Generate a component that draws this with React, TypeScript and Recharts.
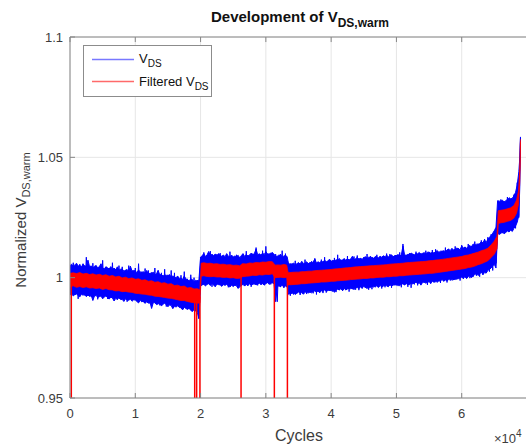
import { Area, CartesianGrid, ComposedChart, Label, Line, ReferenceLine, XAxis, YAxis } from "recharts";

const FONT = "'Liberation Sans', Arial, Helvetica, sans-serif";
const AXIS = "#868686";
const TEXT = "#3c3c3c";
const BLUE = "#0000ff";
const RED = "#ff0000";

// raw V_DS samples: noise envelope (min / max) plus the raw trace itself
const rawCycles = [
  0, 250, 500, 750, 1000, 1250, 1500, 1750, 2000, 2250, 2500, 2750, 3000, 3250, 3500, 3750,
  4000, 4250, 4500, 4750, 5000, 5250, 5500, 5750, 6000, 6250, 6500, 6750, 7000, 7250, 7500, 7750,
  8000, 8250, 8500, 8750, 9000, 9250, 9500, 9750, 10000, 10250, 10500, 10750, 11000, 11250, 11500, 11750,
  12000, 12250, 12500, 12750, 13000, 13250, 13500, 13750, 14000, 14250, 14500, 14750, 15000, 15250, 15500, 15750,
  16000, 16250, 16500, 16750, 17000, 17250, 17500, 17750, 18000, 18250, 18500, 18750, 19000, 19250, 19500, 19750,
  20000, 20250, 20500, 20750, 21000, 21250, 21500, 21750, 22000, 22250, 22500, 22750, 23000, 23250, 23500, 23750,
  24000, 24250, 24500, 24750, 25000, 25250, 25500, 25750, 26000, 26250, 26500, 26750, 27000, 27250, 27500, 27750,
  28000, 28250, 28500, 28750, 29000, 29250, 29500, 29750, 30000, 30250, 30500, 30750, 31000, 31250, 31500, 31750,
  32000, 32250, 32500, 32750, 33000, 33250, 33500, 33750, 34000, 34250, 34500, 34750, 35000, 35250, 35500, 35750,
  36000, 36250, 36500, 36750, 37000, 37250, 37500, 37750, 38000, 38250, 38500, 38750, 39000, 39250, 39500, 39750,
  40000, 40250, 40500, 40750, 41000, 41250, 41500, 41750, 42000, 42250, 42500, 42750, 43000, 43250, 43500, 43750,
  44000, 44250, 44500, 44750, 45000, 45250, 45500, 45750, 46000, 46250, 46500, 46750, 47000, 47250, 47500, 47750,
  48000, 48250, 48500, 48750, 49000, 49250, 49500, 49750, 50000, 50250, 50500, 50750, 51000, 51250, 51500, 51750,
  52000, 52250, 52500, 52750, 53000, 53250, 53500, 53750, 54000, 54250, 54500, 54750, 55000, 55250, 55500, 55750,
  56000, 56250, 56500, 56750, 57000, 57250, 57500, 57750, 58000, 58250, 58500, 58750, 59000, 59250, 59500, 59750,
  60000, 60250, 60500, 60750, 61000, 61250, 61500, 61750, 62000, 62250, 62500, 62750, 63000, 63250, 63500, 63750,
  64000, 64250, 64500, 64750, 65000, 65250, 65500, 65750, 66000, 66250, 66500, 66750, 67000, 67250, 67500, 67750,
  68000, 68250, 68500, 68750, 68900, 69000,
];
const vdsHigh = [
  1.005, 1.0056, 1.0047, 1.0053, 1.006, 1.0048, 1.0052, 1.0045, 1.0056, 1.0049, 1.0047, 1.0073, 1.0045, 1.0049, 1.0041, 1.0047,
  1.005, 1.0041, 1.0046, 1.0058, 1.004, 1.0037, 1.0045, 1.0041, 1.0036, 1.0046, 1.0033, 1.004, 1.0033, 1.0045, 1.0031, 1.0035,
  1.0036, 1.0027, 1.0031, 1.0034, 1.0026, 1.0048, 1.0028, 1.003, 1.0028, 1.0021, 1.0032, 1.0024, 1.0021, 1.0025, 1.0018, 1.003,
  1.0014, 1.0019, 1.0017, 1.0023, 1.0012, 1.0016, 1.0031, 1.0011, 1.0014, 1.0007, 1.0011, 1.001, 1.0007, 1.0013, 1.0001, 1.0008,
  0.9999, 1.0001, 1.0006, 0.9997, 0.9998, 0.9993, 1.0007, 0.9995, 0.9991, 0.9987, 0.9995, 0.9992, 0.9983, 0.9989, 0.9985, 0.9991,
  1.0085, 1.0092, 1.01, 1.0088, 1.0095, 1.0109, 1.0092, 1.0097, 1.0092, 1.0098, 1.0089, 1.01, 1.0092, 1.0089, 1.0094, 1.0087,
  1.01, 1.0089, 1.0087, 1.0094, 1.0086, 1.009, 1.0087, 1.0093, 1.0082, 1.0092, 1.01, 1.0088, 1.0097, 1.009, 1.0094, 1.0102,
  1.0094, 1.0101, 1.0119, 1.0095, 1.0099, 1.0094, 1.0102, 1.0096, 1.0108, 1.0099, 1.0097, 1.0102, 1.0102, 1.0098, 1.0088, 1.009,
  1.0088, 1.0098, 1.0084, 1.009, 1.0092, 1.0088, 1.0055, 1.0058, 1.0056, 1.0061, 1.0054, 1.0058, 1.0062, 1.0057, 1.0068, 1.0059,
  1.006, 1.0066, 1.0058, 1.0063, 1.0062, 1.0065, 1.0078, 1.0061, 1.0066, 1.0062, 1.0069, 1.0065, 1.0073, 1.0066, 1.0069, 1.0077,
  1.0067, 1.0072, 1.0069, 1.0074, 1.0073, 1.008, 1.0069, 1.0074, 1.0077, 1.0073, 1.0078, 1.0074, 1.0077, 1.0089, 1.0075, 1.0079,
  1.0084, 1.0078, 1.008, 1.0077, 1.0083, 1.0087, 1.0081, 1.0085, 1.0082, 1.0085, 1.008, 1.0088, 1.0086, 1.0083, 1.0088, 1.0085,
  1.0091, 1.0087, 1.0094, 1.0086, 1.0091, 1.0095, 1.0087, 1.0092, 1.0092, 1.0096, 1.0091, 1.0094, 1.0132, 1.0095, 1.0092, 1.0097,
  1.0096, 1.0102, 1.0098, 1.0095, 1.0101, 1.0099, 1.0105, 1.0098, 1.0101, 1.0104, 1.0099, 1.0106, 1.0106, 1.0102, 1.0105, 1.0103,
  1.0107, 1.0113, 1.0105, 1.011, 1.011, 1.0112, 1.0108, 1.0116, 1.0117, 1.0113, 1.0122, 1.0115, 1.0118, 1.0123, 1.012, 1.0116,
  1.0132, 1.0123, 1.0126, 1.0122, 1.013, 1.0134, 1.0127, 1.014, 1.0135, 1.0139, 1.0136, 1.0142, 1.0149, 1.0145, 1.0158, 1.0146,
  1.016, 1.0168, 1.0175, 1.0185, 1.0195, 1.021, 1.032, 1.0318, 1.0318, 1.0322, 1.0314, 1.032, 1.0325, 1.0332, 1.0328, 1.033,
  1.034, 1.0355, 1.0385, 1.044, 1.05, 1.0585,
];
const vdsLow = [
  0.9928, 0.9933, 0.9924, 0.993, 0.9932, 0.9926, 0.992, 0.9931, 0.9927, 0.9932, 0.9921, 0.9928, 0.9922, 0.9927, 0.9905, 0.9924,
  0.9926, 0.9918, 0.9921, 0.9924, 0.9912, 0.992, 0.9924, 0.9917, 0.9911, 0.9919, 0.9916, 0.9903, 0.9914, 0.9911, 0.9916, 0.9909,
  0.991, 0.9901, 0.9912, 0.9907, 0.9906, 0.9911, 0.9902, 0.9908, 0.9907, 0.9901, 0.9895, 0.9906, 0.9899, 0.9904, 0.9893, 0.99,
  0.9894, 0.9899, 0.9872, 0.9896, 0.9896, 0.9888, 0.9891, 0.9894, 0.9882, 0.989, 0.9894, 0.9887, 0.9879, 0.9887, 0.9884, 0.9871,
  0.9881, 0.9878, 0.9883, 0.9876, 0.9875, 0.9866, 0.9877, 0.9872, 0.9868, 0.9873, 0.9864, 0.986, 0.9867, 0.9861, 0.9855, 0.983,
  0.9965, 0.997, 0.9972, 0.9966, 0.9972, 0.9975, 0.9967, 0.9977, 0.9969, 0.9962, 0.9974, 0.9971, 0.997, 0.9964, 0.9971, 0.9968,
  0.9972, 0.9966, 0.9961, 0.9969, 0.9963, 0.9969, 0.9966, 0.9955, 0.9962, 0.9968, 0.9972, 0.9965, 0.9972, 0.9966, 0.9975, 0.9969,
  0.9972, 0.9976, 0.997, 0.9974, 0.9977, 0.9971, 0.9975, 0.9969, 0.9975, 0.998, 0.9972, 0.9978, 0.9978, 0.9976, 0.99, 0.9962,
  0.9966, 0.9962, 0.9969, 0.996, 0.9965, 0.9962, 0.993, 0.9936, 0.9934, 0.9938, 0.993, 0.9936, 0.994, 0.9935, 0.9938, 0.9931,
  0.9939, 0.9943, 0.9936, 0.994, 0.9937, 0.9943, 0.9945, 0.994, 0.9945, 0.9937, 0.9946, 0.9943, 0.9949, 0.9944, 0.9946, 0.995,
  0.9945, 0.995, 0.9939, 0.9949, 0.9952, 0.995, 0.9954, 0.9946, 0.9955, 0.9949, 0.9953, 0.9956, 0.9954, 0.9957, 0.995, 0.9958,
  0.9959, 0.9955, 0.9961, 0.9957, 0.9963, 0.996, 0.9955, 0.9961, 0.9959, 0.9964, 0.9961, 0.9966, 0.9965, 0.9959, 0.9967, 0.9962,
  0.9965, 0.9969, 0.9966, 0.9962, 0.997, 0.9966, 0.9969, 0.9972, 0.9969, 0.9972, 0.9966, 0.9974, 0.9974, 0.997, 0.9975, 0.9972,
  0.9971, 0.9977, 0.9974, 0.9979, 0.9981, 0.9975, 0.9979, 0.9969, 0.998, 0.9983, 0.9977, 0.9981, 0.9983, 0.9977, 0.9985, 0.9981,
  0.9983, 0.9987, 0.9985, 0.9988, 0.9991, 0.9986, 0.999, 0.9988, 0.9992, 0.9996, 0.9989, 0.9994, 0.9992, 0.9998, 0.9996, 0.9999,
  1.0002, 0.9998, 1.0004, 0.9996, 1.0005, 1.0008, 1.0, 1.0007, 1.0013, 1.0017, 1.0009, 1.0015, 1.0023, 1.0013, 1.0021, 1.0019,
  1.003, 1.0035, 1.004, 1.005, 1.0055, 1.004, 1.0185, 1.018, 1.0184, 1.019, 1.0182, 1.0188, 1.0194, 1.019, 1.0198, 1.0192,
  1.0205, 1.0215, 1.023, 1.026, 1.038, 1.056,
];
const vdsTrace = [
  1.005, 0.994, 1.0062, 0.9928, 1.0042, 0.9912, 1.0056, 0.9946, 1.0058, 0.9926, 1.0085, 0.9935, 1.004, 0.992, 1.006, 0.993,
  1.005, 0.991, 1.0043, 0.9925, 1.0072, 0.9928, 1.0045, 0.9912, 1.004, 0.9918, 1.0062, 0.993, 1.0035, 0.9908, 1.005, 0.9924,
  1.0045, 0.9915, 1.003, 0.99, 1.005, 0.9918, 1.0028, 0.9908, 1.004, 0.9905, 1.0058, 0.9915, 1.0025, 0.9898, 1.0038, 0.991,
  1.003, 0.9892, 1.0022, 0.9905, 1.004, 0.99, 1.0018, 0.9885, 1.002, 0.9895, 1.0035, 0.988, 1.0012, 0.989, 1.003, 0.9875,
  1.002, 0.9882, 1.0005, 0.9878, 1.001, 0.987, 1.0025, 0.988, 0.9995, 0.9872, 1.0012, 0.986, 1.0, 0.9862, 0.999, 0.983,
  1.0085, 0.9972, 1.0105, 0.9968, 1.0092, 0.9975, 1.011, 0.9962, 1.0088, 0.997, 1.0098, 0.9978, 1.0102, 0.9965, 1.0085, 0.9972,
  1.009, 0.996, 1.0108, 0.997, 1.0085, 0.9968, 1.0095, 0.9958, 1.008, 0.9965, 1.0092, 0.9968, 1.011, 0.997, 1.0088, 0.9962,
  1.01, 0.9972, 1.0125, 0.9968, 1.0095, 0.9975, 1.0112, 0.997, 1.013, 0.9978, 1.01, 0.9972, 1.0105, 0.9975, 1.0098, 0.99,
  1.0095, 0.9962, 1.0112, 0.9958, 1.01, 0.9965, 1.006, 0.9925, 1.0058, 0.993, 1.007, 0.9935, 1.0062, 0.9928, 1.0055, 0.9938,
  1.0075, 0.9932, 1.006, 0.994, 1.0068, 0.9935, 1.008, 0.993, 1.0062, 0.9942, 1.0075, 0.9936, 1.0085, 0.9938, 1.0068, 0.9945,
  1.007, 0.9942, 1.0082, 0.994, 1.0095, 0.9948, 1.0075, 0.9945, 1.008, 0.995, 1.009, 0.9942, 1.0078, 0.9952, 1.0088, 0.995,
  1.0092, 0.9948, 1.008, 0.9955, 1.0085, 0.9958, 1.0098, 0.995, 1.009, 0.9952, 1.0082, 0.996, 1.0095, 0.9962, 1.0088, 0.9955,
  1.0085, 0.996, 1.01, 0.9965, 1.0098, 0.9958, 1.009, 0.9968, 1.0092, 0.9965, 1.0105, 0.996, 1.014, 0.997, 1.0095, 0.9962,
  1.0102, 0.9958, 1.0098, 0.9972, 1.0108, 0.9968, 1.01, 0.9975, 1.0098, 0.9978, 1.0112, 0.997, 1.0105, 0.9975, 1.0115, 0.9982,
  1.0118, 0.998, 1.0105, 0.9978, 1.011, 0.9985, 1.0125, 0.998, 1.012, 0.9988, 1.0115, 0.999, 1.013, 0.9992, 1.0122, 0.9988,
  1.0135, 0.9995, 1.0128, 1.0, 1.014, 0.9998, 1.0132, 1.0004, 1.015, 1.0008, 1.0142, 1.0004, 1.0155, 1.0012, 1.016, 1.002,
  1.0168, 1.0025, 1.018, 1.003, 1.0195, 1.006, 1.0215, 1.018, 1.0325, 1.0185, 1.0318, 1.019, 1.0335, 1.0192, 1.032, 1.0195,
  1.0345, 1.0205, 1.0395, 1.025, 1.047, 1.058,
];

// filtered V_DS band
const filtCycles = [
  0, 500, 1000, 1500, 2000, 2500, 3000, 3500, 4000, 4500,
  5000, 5500, 6000, 6500, 7000, 7500, 8000, 8500, 9000, 9500,
  10000, 10500, 11000, 11500, 12000, 12500, 13000, 13500, 14000, 14500,
  15000, 15500, 16000, 16500, 17000, 17500, 18000, 18500, 19000, 19500,
  19900, 20100, 20500, 21000, 21500, 22000, 22500, 23000, 23500, 24000,
  24500, 25000, 25500, 26000, 26400, 27000, 27500, 28000, 28500, 29000,
  29500, 30000, 30500, 31000, 31400, 31800, 32300, 32800, 33200, 33400,
  34000, 34500, 35000, 35500, 36000, 36500, 37000, 37500, 38000, 38500,
  39000, 39500, 40000, 40500, 41000, 41500, 42000, 42500, 43000, 43500,
  44000, 44500, 45000, 45500, 46000, 46500, 47000, 47500, 48000, 48500,
  49000, 49500, 50000, 50500, 51000, 51500, 52000, 52500, 53000, 53500,
  54000, 54500, 55000, 55500, 56000, 56500, 57000, 57500, 58000, 58500,
  59000, 59500, 60000, 60500, 61000, 61500, 62000, 62500, 63000, 63500,
  64000, 64500, 65000, 65400, 65600, 66000, 66500, 67000, 67500, 68000,
  68400, 68700, 68900, 69000,
];
const filtLow = [
  0.9962, 0.9966, 0.996, 0.9963, 0.9959, 0.9962, 0.9957, 0.9958, 0.9955, 0.9957,
  0.9951, 0.9955, 0.995, 0.9949, 0.9945, 0.9946, 0.9942, 0.9943, 0.994, 0.9939,
  0.9935, 0.9934, 0.9932, 0.9931, 0.9928, 0.9927, 0.9923, 0.9922, 0.992, 0.9918,
  0.9915, 0.9914, 0.9911, 0.9908, 0.9905, 0.9905, 0.9901, 0.9898, 0.9896, 0.9894,
  0.9895, 1.0006, 1.0008, 1.0005, 1.0004, 1.0005, 1.0003, 1.0003, 1.0001, 1.0002,
  0.9999, 1.0, 0.9997, 0.9998, 1.0004, 1.0006, 1.0007, 1.001, 1.0009, 1.0012,
  1.0011, 1.0014, 1.0013, 1.0016, 1.0, 1.0001, 1.0002, 1.0, 1.0002, 0.997,
  0.9971, 0.9972, 0.9973, 0.9975, 0.9975, 0.9977, 0.9978, 0.9979, 0.998, 0.9982,
  0.9982, 0.9983, 0.9985, 0.9985, 0.9987, 0.9988, 0.9989, 0.999, 0.9992, 0.9993,
  0.9994, 0.9995, 0.9997, 0.9997, 0.9999, 0.9999, 1.0001, 1.0002, 1.0002, 1.0004,
  1.0004, 1.0006, 1.0006, 1.0008, 1.0008, 1.001, 1.0011, 1.0012, 1.0013, 1.0014,
  1.0015, 1.0016, 1.0018, 1.0018, 1.002, 1.0022, 1.0024, 1.0026, 1.0028, 1.003,
  1.0032, 1.0034, 1.0036, 1.0038, 1.0042, 1.0044, 1.0048, 1.0054, 1.0058, 1.0064,
  1.007, 1.0084, 1.0098, 1.012, 1.0225, 1.0228, 1.023, 1.0234, 1.0238, 1.0248,
  1.0268, 1.0305, 1.04, 1.0565,
];
const filtHigh = [
  1.0018, 1.002, 1.0017, 1.0021, 1.0015, 1.0018, 1.0013, 1.0016, 1.0011, 1.0014,
  1.0009, 1.0012, 1.0006, 1.0009, 1.0003, 1.0006, 0.9999, 1.0002, 0.9996, 0.9999,
  0.9993, 0.9995, 0.9989, 0.9991, 0.9985, 0.9987, 0.9981, 0.9983, 0.9977, 0.9979,
  0.9973, 0.9975, 0.9967, 0.9969, 0.9963, 0.9965, 0.9957, 0.9959, 0.9953, 0.9954,
  0.9949, 1.006, 1.0062, 1.0059, 1.006, 1.0057, 1.0058, 1.0055, 1.0056, 1.0053,
  1.0054, 1.0051, 1.0052, 1.0049, 1.0058, 1.0057, 1.0061, 1.006, 1.0063, 1.0062,
  1.0065, 1.0064, 1.0067, 1.0066, 1.0052, 1.0053, 1.0052, 1.0055, 1.0052, 1.002,
  1.0022, 1.0023, 1.0023, 1.0025, 1.0025, 1.0027, 1.0027, 1.0029, 1.003, 1.0031,
  1.0032, 1.0033, 1.0034, 1.0036, 1.0037, 1.0038, 1.004, 1.0041, 1.0042, 1.0044,
  1.0045, 1.0046, 1.0047, 1.0048, 1.0049, 1.005, 1.0051, 1.0052, 1.0053, 1.0054,
  1.0056, 1.0057, 1.0058, 1.0059, 1.006, 1.0062, 1.0063, 1.0064, 1.0065, 1.0066,
  1.0067, 1.0068, 1.007, 1.0071, 1.0073, 1.0074, 1.0076, 1.0078, 1.008, 1.0082,
  1.0084, 1.0086, 1.0088, 1.0092, 1.0094, 1.0098, 1.0102, 1.0106, 1.0112, 1.0116,
  1.0122, 1.0136, 1.0152, 1.0172, 1.0278, 1.028, 1.0282, 1.0286, 1.029, 1.03,
  1.0322, 1.036, 1.045, 1.0575,
];

// short outages where the filtered signal falls to the axis floor
const dropCycles = [200, 19100, 19400, 19900, 26200, 31300, 33300];
const dropTops = [0.999, 0.9925, 0.9924, 0.9922, 1.0023, 1.0041, 1.0027];

const xTicks = [0, 10000, 20000, 30000, 40000, 50000, 60000];
const yTicks = [0.95, 1, 1.05, 1.1];

const rawRows = rawCycles.map((c, i) => ({
  cycles: c,
  vds: [vdsLow[i], vdsHigh[i]],
  trace: vdsTrace[i],
}));
const filtRows = filtCycles.map((c, i) => ({ cycles: c, filt: [filtLow[i], filtHigh[i]] }));

function BottomTick(props: any) {
  const { x, y, payload } = props;
  return (
    <g>
      <line x1={x} y1={y} x2={x} y2={y - 5} stroke={AXIS} />
      <text x={x} y={y + 20} textAnchor="middle" fontSize={13} fill={TEXT} fontFamily={FONT}>
        {payload.value / 10000}
      </text>
    </g>
  );
}

function LeftTick(props: any) {
  const { x, y, payload } = props;
  return (
    <g>
      <line x1={x} y1={y} x2={x + 5} y2={y} stroke={AXIS} />
      <text x={x - 7} y={y + 4.5} textAnchor="end" fontSize={13} fill={TEXT} fontFamily={FONT}>
        {String(payload.value)}
      </text>
    </g>
  );
}

const renderTitle = () => (
  <text x={300} y={22} textAnchor="middle" fontFamily={FONT} fontWeight="bold" fontSize={15} fill="#111">
    Development of V
    <tspan dy={5} fontSize={12}>
      DS,warm
    </tspan>
  </text>
);

const renderXLabel = () => (
  <g fontFamily={FONT} fill={TEXT}>
    <text x={299} y={441} textAnchor="middle" fontSize={16}>
      Cycles
    </text>
    <text x={494} y={443} fontSize={13}>
      ×10<tspan dy={-6} fontSize={10}>4</tspan>
    </text>
  </g>
);

const renderYLabel = () => (
  <text
    transform="translate(26, 220) rotate(-90)"
    textAnchor="middle"
    fontFamily={FONT}
    fontSize={15}
    fill={TEXT}
  >
    Normalized V
    <tspan dy={4} fontSize={11}>
      DS,warm
    </tspan>
  </text>
);

function LegendBox() {
  return (
    <svg
      width={526}
      height={448}
      style={{ position: "absolute", left: 0, top: 0, pointerEvents: "none" }}
    >
      <g fontFamily={FONT} fontSize={13}>
        <rect x={83.5} y={45.5} width={128} height={51} fill="#fff" stroke="#8c8c8c" />
        <line x1={92} y1={59.5} x2={134} y2={59.5} stroke="#7878ff" strokeWidth={1.4} />
        <text x={139} y={63} fill="#111">
          V<tspan dy={4} fontSize={10}>DS</tspan>
        </text>
        <line x1={92} y1={81.5} x2={134} y2={81.5} stroke="#ff6a6a" strokeWidth={1.4} />
        <text x={139} y={86} fill="#111">
          Filtered V<tspan dy={4} fontSize={10}>DS</tspan>
        </text>
      </g>
    </svg>
  );
}

export default function App() {
  return (
    <div
      style={{
        position: "absolute",
        left: 0,
        top: 0,
        width: 526,
        height: 448,
        overflow: "hidden",
        background: "#fff",
      }}
    >
      <ComposedChart width={540} height={448} data={filtRows} margin={{ top: 37, right: 13, bottom: 0, left: 0 }}>
        <CartesianGrid stroke="#e6e6e6" />
        <XAxis
          dataKey="cycles"
          type="number"
          domain={[0, 70000]}
          ticks={xTicks}
          interval={0}
          allowDataOverflow
          height={50}
          axisLine={{ stroke: AXIS }}
          tickLine={false}
          tickSize={0}
          tickMargin={0}
          tick={BottomTick}
        >
          <Label content={renderXLabel} />
          <Label content={renderTitle} />
        </XAxis>
        <YAxis
          type="number"
          domain={[0.95, 1.1]}
          ticks={yTicks}
          interval={0}
          allowDataOverflow
          width={70}
          axisLine={{ stroke: AXIS }}
          tickLine={false}
          tickSize={0}
          tickMargin={0}
          tick={LeftTick}
        >
          <Label content={renderYLabel} />
        </YAxis>
        {/* top box edge with inward ticks */}
        <ReferenceLine y={1.1} stroke={AXIS} ifOverflow="visible" />
        {xTicks.map((t) => (
          <ReferenceLine
            key={"t" + t}
            segment={[
              { x: t, y: 1.1 },
              { x: t, y: 1.0979 },
            ]}
            stroke={AXIS}
            ifOverflow="visible"
          />
        ))}
        <Area
          data={rawRows}
          type="linear"
          dataKey="vds"
          stroke={BLUE}
          strokeWidth={1}
          fill={BLUE}
          fillOpacity={1}
          dot={false}
          activeDot={false}
          isAnimationActive={false}
        />
        <Line
          data={rawRows}
          type="linear"
          dataKey="trace"
          stroke={BLUE}
          strokeWidth={1}
          dot={false}
          activeDot={false}
          isAnimationActive={false}
        />
        <Area
          type="linear"
          dataKey="filt"
          stroke={RED}
          strokeWidth={0.8}
          fill={RED}
          fillOpacity={1}
          dot={false}
          activeDot={false}
          isAnimationActive={false}
          zIndex={450}
        />
        {dropCycles.map((c, i) => (
          <ReferenceLine
            key={c}
            segment={[
              { x: c, y: 0.95 },
              { x: c, y: dropTops[i] },
            ]}
            stroke={RED}
            strokeWidth={1.5}
            ifOverflow="visible"
            zIndex={460}
          />
        ))}
      </ComposedChart>
      <LegendBox />
    </div>
  );
}
